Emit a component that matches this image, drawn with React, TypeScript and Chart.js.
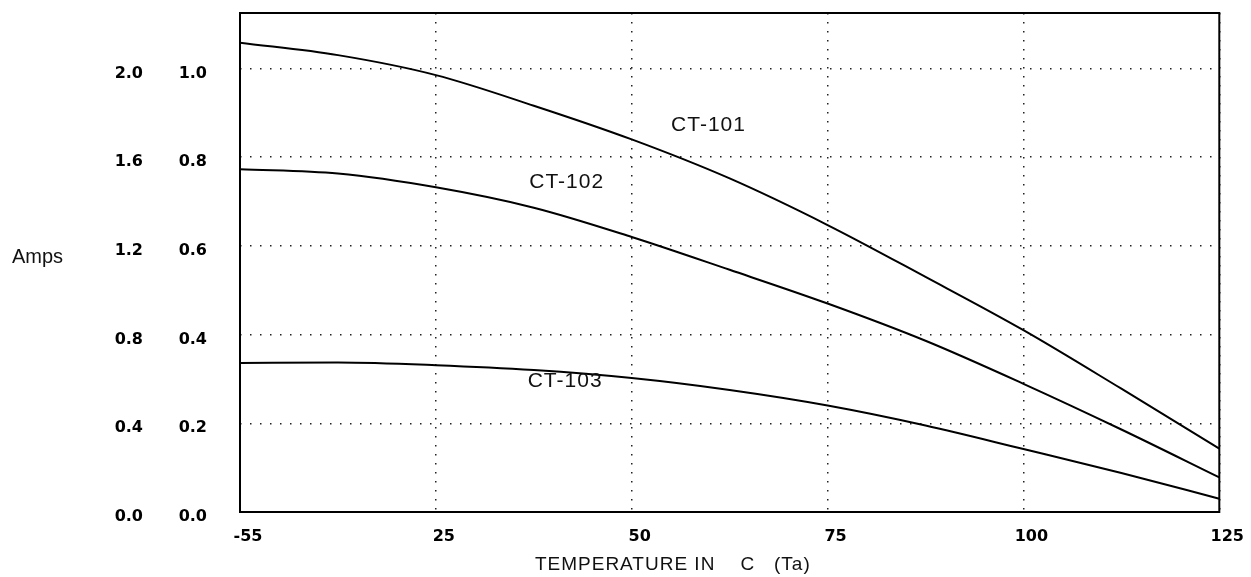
import React, { useEffect, useRef } from 'react';
import { Chart, registerables } from 'chart.js';

Chart.register(...registerables);

// Tick temperatures (the axis is drawn with equally spaced ticks)
const xTickTemps = [-55, 25, 50, 75, 100, 125];
const xTickLabels = ['-55', '25', '50', '75', '100', '125'];

// Sample temperatures for the curves
const temps = [-55, -15, 25, 37.5, 50, 62.5, 75, 87.5, 100, 112.5, 125];
const ct101 = [1.058, 1.03, 0.985, 0.916, 0.84, 0.752, 0.647, 0.53, 0.41, 0.278, 0.143];
const ct102 = [0.773, 0.763, 0.732, 0.686, 0.62, 0.546, 0.47, 0.386, 0.289, 0.186, 0.078];
const ct103 = [0.336, 0.337, 0.331, 0.32, 0.302, 0.275, 0.24, 0.195, 0.142, 0.088, 0.03];

const seriesNames = ['CT-101', 'CT-102', 'CT-103'];
const seriesLabelTemps = [59.8, 41.7, 41.5];
const seriesLabelAmps = [0.872, 0.743, 0.294];

const ampTicksInner = [0, 0.2, 0.4, 0.6, 0.8, 1.0];
const ampTicksOuter = [0, 0.4, 0.8, 1.2, 1.6, 2.0];
const Y_MAX = 1.125;

const yTitle = 'Amps';
const xTitle = 'TEMPERATURE IN    C   (Ta)';

function tempToPos(t: number): number {
  for (let i = 0; i < xTickTemps.length - 1; i++) {
    const a = xTickTemps[i];
    const b = xTickTemps[i + 1];
    if (t <= b || i === xTickTemps.length - 2) {
      return i + (t - a) / (b - a);
    }
  }
  return 0;
}

const TICK_FONT = { family: '"DejaVu Sans", sans-serif', size: 16, weight: 'bold' as const };

export default function App() {
  const ref = useRef<HTMLCanvasElement>(null);

  useEffect(() => {
    if (!ref.current) return;
    const mk = (vals: number[]) => temps.map((t, i) => ({ x: tempToPos(t), y: vals[i] }));

    const decor = {
      id: 'decor',
      afterDraw(chart: any) {
        const { ctx, chartArea, scales } = chart;
        const xs = scales.x;
        const ys = scales.y;
        ctx.save();
        // frame
        ctx.strokeStyle = '#000';
        ctx.lineWidth = 2;
        ctx.strokeRect(chartArea.left, chartArea.top, chartArea.right - chartArea.left, chartArea.bottom - chartArea.top);
        // series labels
        ctx.fillStyle = '#111';
        (ctx as any).letterSpacing = '1px';
        ctx.font = '21px "Liberation Sans", Arial, sans-serif';
        ctx.textAlign = 'center';
        ctx.textBaseline = 'middle';
        seriesNames.forEach((n, i) => {
          ctx.fillText(n, xs.getPixelForValue(tempToPos(seriesLabelTemps[i])), ys.getPixelForValue(seriesLabelAmps[i]));
        });
        // y title
        (ctx as any).letterSpacing = '0px';
        ctx.font = '20px "Liberation Sans", Arial, sans-serif';
        ctx.textAlign = 'left';
        ctx.fillText(yTitle, 12, (chartArea.top + chartArea.bottom) / 2 - 5);
        // x title
        (ctx as any).letterSpacing = '1px';
        ctx.font = '19px "Liberation Sans", Arial, sans-serif';
        ctx.textAlign = 'center';
        ctx.fillText(xTitle, chartArea.left + 0.442 * (chartArea.right - chartArea.left), 565);
        ctx.restore();
      },
    };

    const lineStyle = {
      borderColor: '#000',
      borderWidth: 2,
      pointRadius: 0,
      fill: false,
      cubicInterpolationMode: 'monotone' as const,
    };

    const noVertPad = (s: any) => {
      s.paddingTop = 0;
      s.paddingBottom = 0;
    };

    const chart = new Chart(ref.current, {
      type: 'line',
      data: {
        datasets: [
          { label: seriesNames[0], data: mk(ct101), ...lineStyle },
          { label: seriesNames[1], data: mk(ct102), ...lineStyle },
          { label: seriesNames[2], data: mk(ct103), ...lineStyle },
        ],
      },
      options: {
        animation: false,
        responsive: true,
        maintainAspectRatio: false,
        layout: { padding: { top: 13, right: 31, bottom: 0, left: 0 } },
        plugins: {
          legend: { display: false },
          tooltip: { enabled: false },
        },
        scales: {
          x: {
            type: 'linear',
            position: 'bottom',
            min: 0,
            max: xTickTemps.length - 1,
            afterBuildTicks: (s: any) => {
              s.ticks = xTickTemps.map((_, i) => ({ value: i }));
            },
            afterFit: (s: any) => {
              s.height = 65;
            },
            ticks: {
              callback: (v: any) => xTickLabels[Math.round(Number(v))],
              color: '#000',
              font: TICK_FONT,
              padding: 15,
              labelOffset: 8,
              maxRotation: 0,
              autoSkip: false,
            },
            grid: {
              color: '#222',
              lineWidth: 1.5,
              drawTicks: false,
            },
            border: { display: false, dash: [1.5, 7.5] },
          },
          y: {
            type: 'linear',
            position: 'left',
            weight: 0,
            min: 0,
            max: Y_MAX,
            afterBuildTicks: (s: any) => {
              s.ticks = ampTicksInner.map((v) => ({ value: v }));
            },
            afterFit: (s: any) => {
              s.width = 80;
              noVertPad(s);
            },
            ticks: {
              callback: (v: any) => Number(v).toFixed(1),
              color: '#000',
              font: TICK_FONT,
              padding: 33,
              labelOffset: 5,
            },
            grid: {
              color: '#222',
              lineWidth: 1.5,
              drawTicks: false,
            },
            border: { display: false, dash: [1.5, 8.5] },
          },
          y2: {
            type: 'linear',
            position: 'left',
            weight: 1,
            min: 0,
            max: Y_MAX * 2,
            afterBuildTicks: (s: any) => {
              s.ticks = ampTicksOuter.map((v) => ({ value: v }));
            },
            afterFit: (s: any) => {
              s.width = 160;
              noVertPad(s);
            },
            ticks: {
              callback: (v: any) => Number(v).toFixed(1),
              color: '#000',
              font: TICK_FONT,
              padding: 17,
              labelOffset: 5,
            },
            grid: { display: false, drawTicks: false },
            border: { display: false },
          },
        },
      },
      plugins: [decor],
    });
    return () => chart.destroy();
  }, []);

  return (
    <div style={{ position: 'fixed', left: 0, top: 0, width: 1251, height: 577, background: '#fff' }}>
      <canvas ref={ref} />
    </div>
  );
}
